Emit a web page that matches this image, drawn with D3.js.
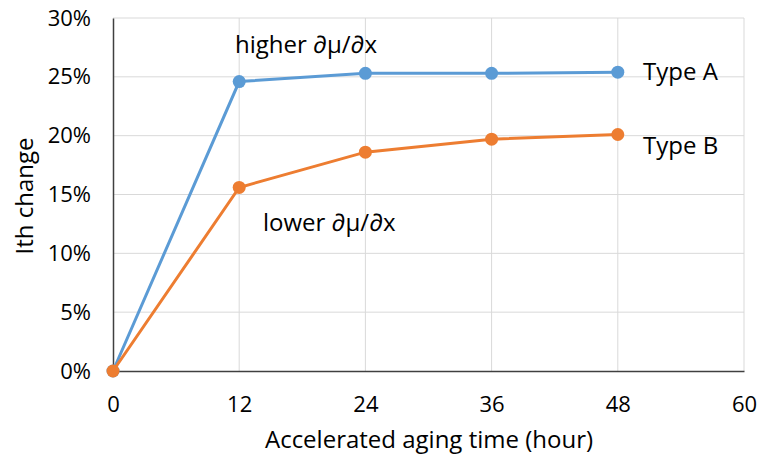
<!DOCTYPE html>
<html>
<head>
<meta charset="utf-8">
<script src="https://cdn.jsdelivr.net/npm/d3@7"></script>
<style>
  body { margin: 0; background: #fff; }
  text { font-family: "Open Sans", "Noto Sans", sans-serif; fill: #000; }
</style>
</head>
<body>
<svg id="chart" width="762" height="458"></svg>
<script>
var hours = [0, 12, 24, 36, 48];
var typeA = [0, 24.6, 25.3, 25.3, 25.4];
var typeB = [0, 15.6, 18.6, 19.7, 20.1];
var xTicks = [0, 12, 24, 36, 48, 60];
var yTicks = [0, 5, 10, 15, 20, 25, 30];

var svg = d3.select("#chart");

var x = d3.scaleLinear().domain([0, 60]).range([113, 744]);
var y = d3.scaleLinear().domain([0, 30]).range([371, 18]);

// gridlines
svg.append("g").selectAll("line.h")
   .data(yTicks.slice(1))
   .enter().append("line")
   .attr("x1", x(0)).attr("x2", x(60))
   .attr("y1", function(d) { return y(d); })
   .attr("y2", function(d) { return y(d); })
   .attr("stroke", "#d9d9d9").attr("stroke-width", 1);

svg.append("g").selectAll("line.v")
   .data(xTicks.slice(1))
   .enter().append("line")
   .attr("y1", y(0)).attr("y2", y(30))
   .attr("x1", function(d) { return x(d); })
   .attr("x2", function(d) { return x(d); })
   .attr("stroke", "#d9d9d9").attr("stroke-width", 1);

// axes
var xAxis = svg.append("g")
   .attr("transform", "translate(0," + y(0) + ")")
   .call(d3.axisBottom(x).tickValues(xTicks).tickSize(0).tickPadding(22).tickFormat(d3.format("d")));
var yAxis = svg.append("g")
   .attr("transform", "translate(" + x(0) + ",0)")
   .call(d3.axisLeft(y).tickValues(yTicks).tickSize(0).tickPadding(22).tickFormat(function(d) { return d + "%"; }));

[xAxis, yAxis].forEach(function(a) {
  a.select(".domain").attr("stroke", "#404040").attr("stroke-width", 1.5);
  a.selectAll("text").style("font-size", "22px").attr("fill", "#000");
});
xAxis.selectAll("text").attr("dy", "0.35em").attr("y", 33);

// axis titles
svg.append("text")
   .attr("x", 429).attr("y", 440)
   .attr("dy", "0.35em")
   .attr("text-anchor", "middle")
   .style("font-size", "24px")
   .text("Accelerated aging time (hour)");
svg.append("text")
   .attr("transform", "translate(25,196) rotate(-90)")
   .attr("dy", "0.35em")
   .attr("text-anchor", "middle")
   .style("font-size", "24px")
   .text("Ith change");

// series
var series = [
  {name: "Type A", values: typeA, color: "#5b9bd5"},
  {name: "Type B", values: typeB, color: "#ed7d31"}
];

var line = d3.line()
   .x(function(d, i) { return x(hours[i]); })
   .y(function(d) { return y(d); });

series.forEach(function(s) {
  svg.append("path")
     .datum(s.values)
     .attr("fill", "none")
     .attr("stroke", s.color)
     .attr("stroke-width", 3)
     .attr("d", line);
  svg.selectAll(null)
     .data(s.values)
     .enter().append("circle")
     .attr("r", 6.5)
     .attr("cx", function(d, i) { return x(hours[i]); })
     .attr("cy", function(d) { return y(d); })
     .attr("fill", s.color);
});

// annotations
function note(txt, xv, yv) {
  svg.append("text")
     .attr("x", xv).attr("y", yv)
     .attr("dy", "0.35em")
     .style("font-size", "24px")
     .text(txt);
}
note("higher \u2202\u03bc/\u2202x", 235, 45);
note("lower \u2202\u03bc/\u2202x", 263, 223);
note("Type A", 643, 72);
note("Type B", 643, 146);
</script>
</body>
</html>
